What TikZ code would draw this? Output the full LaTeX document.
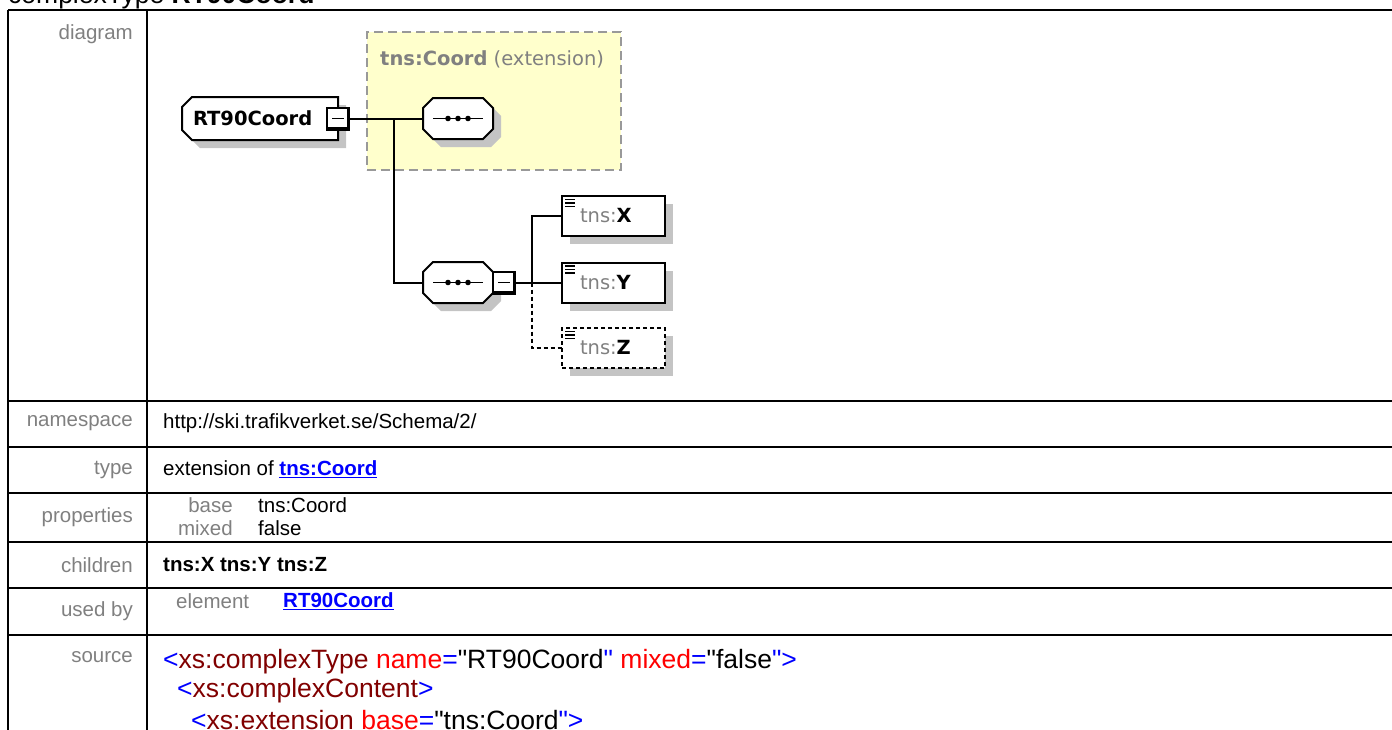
\documentclass[tikz,border=0pt]{standalone}
\usepackage{fontspec}
\setmainfont{Liberation Sans}
\newfontfamily\codefam{Liberation Sans}
\newfontfamily\diagfont{DejaVu Sans}
\usepackage{xcolor}
\usepackage{tikz}
\usetikzlibrary{positioning, shadows, backgrounds}

\definecolor{lblgray}{HTML}{808080}
\definecolor{extfill}{HTML}{FFFFCC}
\definecolor{extline}{HTML}{999999}
\definecolor{shadowgray}{HTML}{C4C4C4}
\definecolor{linkblue}{HTML}{0000FF}
\definecolor{tagblue}{HTML}{0000FF}
\definecolor{tagname}{HTML}{800000}
\definecolor{attname}{HTML}{FF0000}

\newcommand{\bodyfont}{\fontsize{20.5}{24}\selectfont}
\newcommand{\codefont}{\codefam\fontsize{26.5}{29}\selectfont}
\newcommand{\nodefont}{\diagfont\fontsize{19.5}{23}\selectfont}
\newcommand{\lnk}[1]{\textcolor{linkblue}{\underline{\textbf{#1}}}}
\newcommand{\tg}[1]{\textcolor{tagblue}{#1}}
\newcommand{\tn}[1]{\textcolor{tagname}{#1}}
\newcommand{\an}[1]{\textcolor{attname}{#1}}
% outline with cut corners: node, left cut, right cut, offset
\newcommand{\cutbox}[4]{([shift={#4},xshift=#2]#1.north west)
  -- ([shift={#4},xshift=-#3]#1.north east)
  -- ([shift={#4},yshift=-#3]#1.north east) -- ([shift={#4},yshift=#3]#1.south east)
  -- ([shift={#4},xshift=-#3]#1.south east) -- ([shift={#4},xshift=#2]#1.south west)
  -- ([shift={#4},yshift=#2]#1.south west) -- ([shift={#4},yshift=-#2]#1.north west) -- cycle}

\tikzset{
  tabline/.style={line width=2pt},
  lbl/.style={anchor=east, inner sep=0pt, text=lblgray, font=\bodyfont},
  val/.style={anchor=west, inner sep=0pt, font=\bodyfont},
  codeline/.style={anchor=west, inner sep=0pt, font=\codefont},
  dshadow/.style={drop shadow={shadow xshift=8pt, shadow yshift=-8pt, fill=shadowgray, opacity=1}},
  wire/.style={line width=2pt},
  optwire/.style={wire, dash pattern=on 4pt off 3pt},
  extbox/.style={rectangle, draw=extline, fill=extfill, line width=2pt,
    dash pattern=on 9pt off 5pt, minimum width=254pt, minimum height=138pt, inner sep=0pt},
  rootbox/.style={rectangle, minimum width=156pt, minimum height=43pt, inner sep=0pt,
    outer sep=0pt, text width=134pt, align=left, font=\nodefont\bfseries},
  seqbox/.style={rectangle, minimum width=70pt, minimum height=41pt, inner sep=0pt, outer sep=0pt},
  minusbox/.style={rectangle, draw, line width=2pt, fill=white, minimum size=22pt,
    inner sep=0pt, outer sep=0pt,
    path picture={
      \draw[line width=4.5pt] (path picture bounding box.north east)
        -- (path picture bounding box.south east) -- (path picture bounding box.south west);
      \draw[line width=1.6pt] ([xshift=-6pt]path picture bounding box.center)
        -- ([xshift=6pt]path picture bounding box.center);
    }},
  elembox/.style={rectangle, draw, line width=2pt, fill=white, dshadow,
    minimum width=103pt, minimum height=40pt, inner sep=0pt, outer sep=0pt,
    text width=67pt, align=left, font=\nodefont,
    path picture={
      \foreach \yy in {3.5pt,7pt,10.5pt}
        \draw[solid, line width=1.2pt] ([shift={(3pt,-\yy)}]path picture bounding box.north west)
          -- ++(10pt,0pt);
    }},
  optbox/.style={elembox, dash pattern=on 4pt off 3pt},
}

\begin{document}
\begin{tikzpicture}[x=1pt, y=-1pt]
  \useasboundingbox (0,0) rectangle (1392,729);
  \clip (0,0) rectangle (1392,729);

  % heading, cut off by the page top
  \node[anchor=base west, inner sep=0pt, font=\fontsize{26.5}{30}\selectfont] (title) at (8,3)
    {complexType \textbf{RT90Coord}};

  % table grid
  \draw[tabline] (8,10) -- (1400,10);
  \draw[tabline] (8,10) -- (8,740);
  \draw[tabline] (147,10) -- (147,740);
  \foreach \yy in {400.5,446.5,492.5,542,588,635}
    \draw[tabline] (8,\yy) -- (1400,\yy);

  % row labels
  \node[lbl] (l-diagram) at (133,34) {diagram};
  \node[lbl] (l-ns) at (133,423.5) {namespace};
  \node[lbl] (l-type) at (133,469.5) {type};
  \node[lbl] (l-props) at (133,517) {properties};
  \node[lbl] (l-children) at (133,565) {children};
  \node[lbl] (l-usedby) at (133,611) {used by};
  \node[lbl] (l-source) at (133,657) {source};

  % diagram
  \node[rootbox] (root) at (260,118.5) {RT90Coord};
  \node[minusbox] (m1) at (root.east) {};
  \node[seqbox] (seqA) at (458,118.5) {};
  \coordinate (fork1) at (394,118.5);

  \node[seqbox] (seqB) at (458,282.5) {};
  \node[minusbox, right=0pt of seqB] (m2) {};
  \coordinate (fork2) at (532,282.5);

  \node[elembox] (elX) at (613.5,216) {\textcolor{lblgray}{tns:}\textbf{X}};
  \node[elembox] (elY) at (613.5,282.5) {\textcolor{lblgray}{tns:}\textbf{Y}};
  \node[optbox] (elZ) at (613.5,348) {\textcolor{lblgray}{tns:}\textbf{Z}};

  \begin{scope}[on background layer]
    \node[extbox] (ext) at (494,101) {};
    \foreach \b/\rc in {root/0pt, seqA/10pt, seqB/10pt} {
      \fill[shadowgray] \cutbox{\b}{10pt}{\rc}{(8pt,-8pt)};
      \filldraw[fill=white, line width=2pt] \cutbox{\b}{10pt}{\rc}{(0pt,0pt)};
    }
  \end{scope}
  \node[anchor=west, inner sep=0pt, font=\nodefont, text=lblgray] (extname)
    at ([shift={(14,28)}]ext.north west) {\textbf{tns:Coord} (extension)};

  % sequence marks
  \foreach \s in {seqA, seqB} {
    \draw[line width=1.6pt] ([xshift=-25pt]\s.center) -- ([xshift=25pt]\s.center);
    \foreach \dx in {-10pt,0pt,10pt}
      \fill ([xshift=\dx]\s.center) circle (2.8pt);
  }

  \draw[wire] (m1.east) -- (seqA.west);
  \draw[wire] (fork1) |- (seqB.west);
  \draw[wire] (m2.east) -- (elY.west);
  \draw[wire] (fork2) |- (elX.west);
  \draw[optwire] (fork2) |- (elZ.west);

  % detail rows
  \node[val] (v-ns) at (163,423.5) {http://ski.trafikverket.se/Schema/2/};
  \node[val] (v-type) at (163,469.5) {extension of \lnk{tns:Coord}};
  \node[lbl] (p-base) at (233,505) {base};
  \node[val] (v-base) at (258,505) {tns:Coord};
  \node[lbl] (p-mixed) at (233,528) {mixed};
  \node[val] (v-mixed) at (258,528) {false};
  \node[val, font=\bodyfont\bfseries] (v-children) at (163,565) {tns:X tns:Y tns:Z};
  \node[lbl, anchor=west] (u-kind) at (176,601) {element};
  \node[val] (v-usedby) at (283,601) {\lnk{RT90Coord}};

  % schema source
  \node[codeline] (src1) at (163,662)
    {\tg{<}\tn{xs:complexType} \an{name}\tg{=}"RT90Coord\tg{"} \an{mixed}\tg{=}"false\tg{">}};
  \node[codeline] (src2) at (177,691) {\tg{<}\tn{xs:complexContent}\tg{>}};
  \node[codeline] (src3) at (191,720)
    {\tg{<}\tn{xs:extension} \an{base}\tg{=}"tns:Coord\tg{">}};
\end{tikzpicture}
\end{document}
